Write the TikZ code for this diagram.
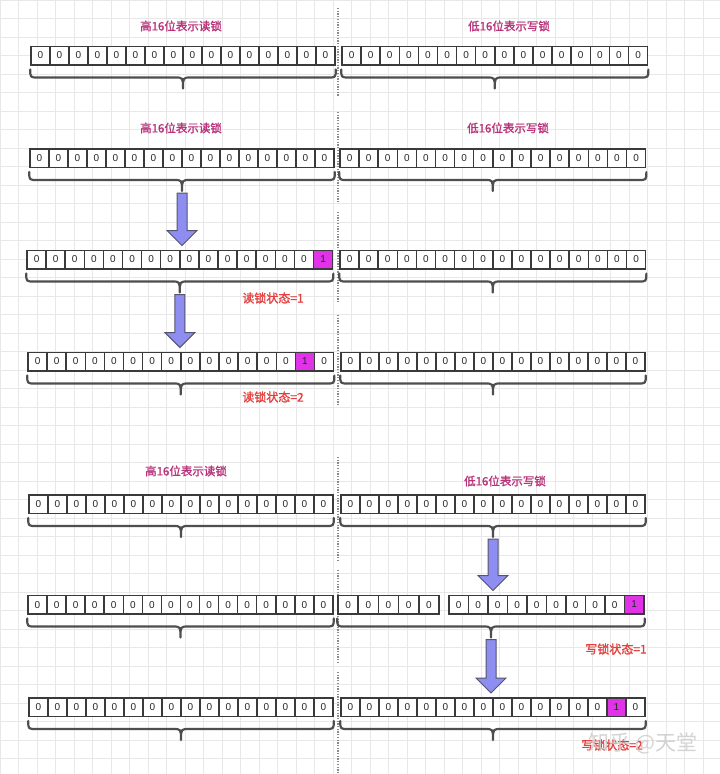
\documentclass[tikz,border=0pt]{standalone}
\usepackage{fontspec}
\setmainfont{Liberation Sans}
\newfontfamily\cjk[FakeBold=1.2]{Noto Sans CJK SC}
\newfontfamily\cjkw{Noto Sans CJK SC}
\usetikzlibrary{calc}
\definecolor{cellc}{HTML}{3A3A3A}
\definecolor{hotc}{HTML}{E033E8}
\definecolor{bracecol}{HTML}{4E4E4E}
\definecolor{headc}{HTML}{B8337A}
\definecolor{statec}{HTML}{E2403E}
\definecolor{arrowc}{HTML}{8E8EF2}
\definecolor{arrowd}{HTML}{55556A}
\definecolor{sepc}{HTML}{8A8A8A}
\definecolor{gridc}{HTML}{E8E8E8}
% #1 name, #2 x0, #3 y centre, #4 count, #5 hot index (0 = none), #6 cell width
\newcommand\bitrow[6]{%
  \foreach \i in {1,...,#4}{%
    \pgfmathsetmacro\cx{#2+(\i-0.5)*#6}%
    \ifnum\i=#5\relax
      \node[cell,hot,minimum width=#6pt] (#1-\i) at (\cx,#3) {1};%
    \else
      \node[cell,minimum width=#6pt] (#1-\i) at (\cx,#3) {0};%
    \fi
  }%
}
% #1 first node, #2 last node, #3 name of tip coordinate
\newcommand\bbrace[3]{%
  \path ($(#1.south west)!0.5!(#2.south east)$) ++(0,23) coordinate (#3);
  \draw[bracec] let \p1=(#1.south west), \p2=(#2.south east), \p3=(#3) in
    (\x1,\y1-4pt) .. controls (\x1,\y1-12pt) .. (\x1+8pt,\y1-12pt)
    -- (\x3-8pt,\y1-12pt) .. controls (\x3,\y1-12pt) .. (\x3,\y3)
    .. controls (\x3,\y1-12pt) .. (\x3+8pt,\y1-12pt)
    -- (\x2-8pt,\y1-12pt) .. controls (\x2,\y1-12pt) .. (\x2,\y1-4pt);
}
% #1 brace tip coordinate, #2 target node
\newcommand\barrowdraw[2]{%
  \draw[barrow] let \p1=(#1), \p2=(#2.north) in
    (\x1-5pt,\y1-2pt) -- (\x1-5pt,\y2+19pt) -- (\x1-15pt,\y2+19pt)
    -- (\x1,\y2+4pt) -- (\x1+15pt,\y2+19pt) -- (\x1+5pt,\y2+19pt)
    -- (\x1+5pt,\y1-2pt) -- cycle;
}
\begin{document}
\begin{tikzpicture}[x=1pt,y=-1pt,
  cell/.style={draw=cellc, line width=1.5pt, minimum height=18.5pt, inner sep=0pt,
    fill=white, text=black!85, font=\fontsize{10}{10}\selectfont,
    text depth=0pt},
  hot/.style={fill=hotc},
  bracec/.style={draw=bracecol, line width=2.2pt, line cap=round, line join=round},
  head/.style={text=headc, font=\cjk\fontsize{11.5}{12}\selectfont},
  state/.style={text=statec, font=\cjk\fontsize{12}{12}\selectfont},
  barrow/.style={fill=arrowc, draw=arrowd, line width=1pt, line join=miter},
  sep/.style={draw=sepc, line width=1.6pt, dash pattern=on 1.3pt off 1.4pt},
  wm/.style={text=gray!40, opacity=0.85, font=\cjkw\fontsize{21}{21}\selectfont}
]
\useasboundingbox (0,0) rectangle (720,774);
\fill[white] (0,0) rectangle (720,774);
\draw[gridc, line width=0.6pt, step=18.5pt] (0,0) grid (720,774);

% separators
\foreach \a/\b in {8/97, 112/202, 212/302, 315/405, 457/560, 570/662, 672/772}
  \draw[sep] (338,\a) -- (338,\b);

% ---------- section 1 ----------
\node[head] (h1l) at (181,26) {高16位表示读锁};
\node[head] (h1r) at (509,26) {低16位表示写锁};
\bitrow{a}{31}{55.5}{16}{0}{19}
\bitrow{b}{342}{55.5}{16}{0}{19.1}
\bbrace{a-1}{a-16}{ta}
\bbrace{b-1}{b-16}{tb}

% ---------- section 2 ----------
\node[head] (h2l) at (181,128) {高16位表示读锁};
\node[head] (h2r) at (508,128) {低16位表示写锁};
\bitrow{c}{30}{158}{16}{0}{19}
\bitrow{d}{340}{158}{16}{0}{19.1}
\bbrace{c-1}{c-16}{tc}
\bbrace{d-1}{d-16}{td}

\bitrow{e}{27}{259.5}{16}{16}{19.1}
\bitrow{f}{340}{259.5}{16}{0}{19.1}
\bbrace{e-1}{e-16}{te}
\bbrace{f-1}{f-16}{tf}
\node[state] (s1) at (273,298) {读锁状态=1};

\bitrow{g}{28}{361.5}{16}{15}{19.1}
\bitrow{h}{341}{361.5}{16}{0}{19}
\bbrace{g-1}{g-16}{tg}
\bbrace{h-1}{h-16}{th}
\node[state] (s2) at (273,397) {读锁状态=2};

\barrowdraw{tc}{e-8}
\barrowdraw{te}{g-8}

% ---------- section 3 ----------
\node[head] (h3l) at (186,471) {高16位表示读锁};
\node[head] (h3r) at (505,481) {低16位表示写锁};
\bitrow{i}{29}{504}{16}{0}{19}
\bitrow{j}{341}{504}{16}{0}{19}
\bbrace{i-1}{i-16}{ti}
\bbrace{j-1}{j-16}{tj}

\bitrow{k}{28}{604.5}{16}{0}{19.06}
\bitrow{m}{338}{604.5}{5}{0}{20.2}
\bitrow{n}{449}{604.5}{10}{10}{19.5}
\bbrace{k-1}{k-16}{tk}
\bbrace{m-1}{n-10}{tn}
\node[state] (s3) at (616,649) {写锁状态=1};

\bitrow{p}{29}{707}{16}{0}{19}
\bitrow{q}{341}{707}{16}{15}{19}
\bbrace{p-1}{p-16}{tp}
\bbrace{q-1}{q-16}{tq}
\node[state] (s4) at (612,745) {写锁状态=2};
\node[wm] (wm) at (643,743) {知乎 @天堂};

\barrowdraw{tj}{n-3}
\barrowdraw{tn}{q-8}
\end{tikzpicture}
\end{document}
